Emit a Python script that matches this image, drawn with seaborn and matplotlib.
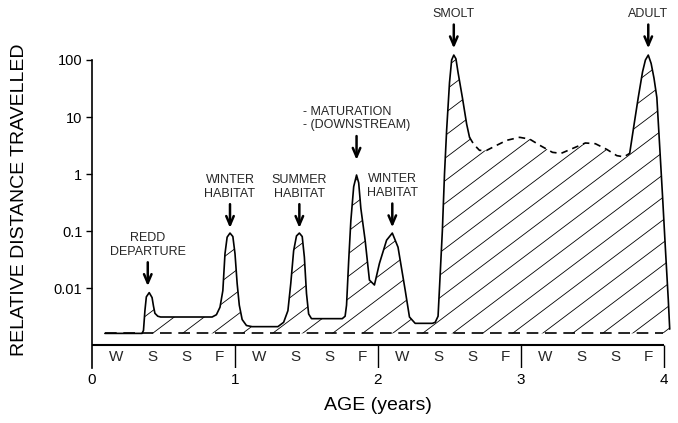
import numpy as np
import matplotlib
matplotlib.use("Agg")
import matplotlib.pyplot as plt
from matplotlib.collections import LineCollection
from matplotlib.ticker import NullLocator
import seaborn as sns

# movement curve (age in years, relative distance)
x_early = [0.09, 0.35, 0.36, 0.37, 0.38, 0.40, 0.42, 0.43, 0.44, 0.46, 0.48,
           0.84, 0.87, 0.895, 0.915, 0.93, 0.945, 0.965, 0.985, 1.0, 1.015, 1.03, 1.05, 1.08, 1.12,
           1.30, 1.34, 1.37, 1.39, 1.41, 1.43, 1.45, 1.47, 1.485, 1.50, 1.515, 1.535,
           1.75, 1.77, 1.78, 1.795, 1.81, 1.83, 1.85, 1.865, 1.88, 1.91, 1.94, 1.975,
           2.01, 2.06, 2.10, 2.14, 2.19, 2.22, 2.26, 2.38, 2.40, 2.42, 2.43, 2.45,
           2.465, 2.48, 2.50, 2.515, 2.53, 2.545, 2.56, 2.59, 2.62, 2.64]
y_early = [0.0016, 0.0016, 0.0018, 0.004, 0.007, 0.0083, 0.0068, 0.0048, 0.0036, 0.0032, 0.0031,
           0.0031, 0.0034, 0.0046, 0.009, 0.04, 0.078, 0.092, 0.08, 0.04, 0.012, 0.005, 0.0028, 0.0022, 0.0021,
           0.0021, 0.0025, 0.004, 0.012, 0.045, 0.082, 0.092, 0.08, 0.035, 0.008, 0.0035, 0.0029,
           0.0029, 0.0032, 0.005, 0.03, 0.15, 0.6, 0.96, 0.7, 0.25, 0.069, 0.0138, 0.0113,
           0.027, 0.069, 0.092, 0.052, 0.0092, 0.0031, 0.0024, 0.0024, 0.0025, 0.0032, 0.01, 0.1,
           1.0, 5.9, 40, 100, 122, 105, 60, 22, 7.5, 4.4]

x_sea = [2.64, 2.67, 2.71, 2.76, 2.82, 2.90, 2.99, 3.06, 3.14, 3.22, 3.28, 3.36,
         3.45, 3.52, 3.60, 3.67, 3.72, 3.76]
y_sea = [4.4, 3.3, 2.6, 2.6, 3.1, 3.9, 4.4, 4.1, 3.1, 2.4, 2.3, 2.8,
         3.5, 3.4, 2.7, 2.1, 2.0, 2.3]

x_adult = [3.76, 3.79, 3.82, 3.85, 3.87, 3.89, 3.91, 3.93, 3.95, 3.97, 3.99, 4.01, 4.03, 4.04]
y_adult = [2.3, 7.2, 22, 62, 100, 122, 87, 48, 22, 3.0, 0.4, 0.048, 0.0062, 0.0019]

base_level = 0.0016
base_start, base_end = 0.09, 3.99
axis_floor = 0.001
band_floor = 0.0004

years = [0, 1, 2, 3, 4]
seasons = ["W", "S", "S", "F"]
season_offsets = [0.17, 0.42, 0.66, 0.89]

y_ticks = [0.01, 0.1, 1, 10, 100]
y_labels = ["0.01", "0.1", "1", "10", "100"]

# (label, x of arrow, y of arrow tip, line alignment)
events = [
    ("REDD\nDEPARTURE", 0.39, 0.0108, "center"),
    ("WINTER\nHABITAT", 0.965, 0.113, "center"),
    ("SUMMER\nHABITAT", 1.45, 0.113, "center"),
    ("- MATURATION\n- (DOWNSTREAM)", 1.85, 1.77, "left"),
    ("WINTER\nHABITAT", 2.10, 0.116, "center"),
    ("SMOLT", 2.53, 160, "center"),
    ("ADULT", 3.89, 160, "center"),
]

sns.set_theme(style="white")
plt.rcParams["font.family"] = ["Liberation Sans", "DejaVu Sans"]

fig = plt.figure(figsize=(6.78, 4.23), dpi=100)
ax = fig.add_axes([92 / 678, 1 - 367.7 / 423, 585 / 678, 334.9 / 423])
ax.set_yscale("log")

sns.lineplot(x=x_early, y=y_early, ax=ax, color="black", lw=1.2, estimator=None, sort=False)
sns.lineplot(x=x_sea, y=y_sea, ax=ax, color="black", lw=1.2, estimator=None, sort=False,
             linestyle=(0, (4, 3)))
sns.lineplot(x=x_adult, y=y_adult, ax=ax, color="black", lw=1.2, estimator=None, sort=False)

# hatched area between the curve and the resting baseline
x_all = x_early + x_sea[1:] + x_adult[1:]
y_all = y_early + y_sea[1:] + y_adult[1:]
poly = ax.fill_between(x_all, base_level, y_all, facecolor="none", edgecolor="none")

ax_w, ax_h = 585, 334.9
slope = np.tan(np.radians(37)) * ax_w / ax_h
step = 30 / ax_w
segs = [[(c, 0), (c + 1 / slope, 1)] for c in np.arange(-1.0, 1.05, step)]
hatch = LineCollection(segs, transform=ax.transAxes, colors="black", linewidths=0.6)
ax.add_collection(hatch)
hatch.set_clip_path(poly.get_paths()[0], ax.transData)

ax.hlines(base_level, base_start, base_end, colors="black", lw=1.2, linestyles=(0, (7, 4)))

# axis line and season band
ax.hlines(axis_floor, years[0], years[-1], colors="black", lw=1.5)
ax.vlines(years[1:], band_floor, axis_floor, colors="black", lw=1)
for yr in years[:-1]:
    for s, off in zip(seasons, season_offsets):
        ax.text(yr + off, 0.00062, s, ha="center", va="center", fontsize=11)

for label, xa, ya, align in events:
    ax.annotate(label, xy=(xa, ya), xytext=(0, 20.5), textcoords="offset points",
                ha="center", va="bottom", fontsize=9, multialignment=align,
                annotation_clip=False,
                arrowprops=dict(arrowstyle="->,head_length=0.7,head_width=0.3",
                                color="black", lw=1.8, shrinkA=1, shrinkB=0))

ax.set_xlim(0, 585 / 143)
ax.set_ylim(band_floor, 300)
ax.set_xticks(years)
ax.set_xticklabels([str(y) for y in years])
ax.set_yticks(y_ticks)
ax.set_yticklabels(y_labels)
ax.yaxis.set_minor_locator(NullLocator())
ax.tick_params(axis="y", left=True, direction="out", length=4, width=1, pad=3,
               labelsize=10.5, colors="black")
ax.tick_params(axis="x", length=0, pad=3.5, labelsize=11, colors="black")

for side in ["top", "right", "bottom"]:
    ax.spines[side].set_visible(False)
ax.spines["left"].set_bounds(band_floor, 100)
ax.spines["left"].set_color("black")
ax.spines["left"].set_linewidth(1.2)
ax.grid(False)

ax.set_xlabel("AGE (years)", fontsize=14, color="black")
ax.xaxis.set_label_coords((378 - 92) / 585, -0.088)
ax.set_ylabel("RELATIVE DISTANCE TRAVELLED", fontsize=14, color="black")
ax.yaxis.set_label_coords(-0.109, 0.5)

fig.savefig("out.png", dpi=100)
